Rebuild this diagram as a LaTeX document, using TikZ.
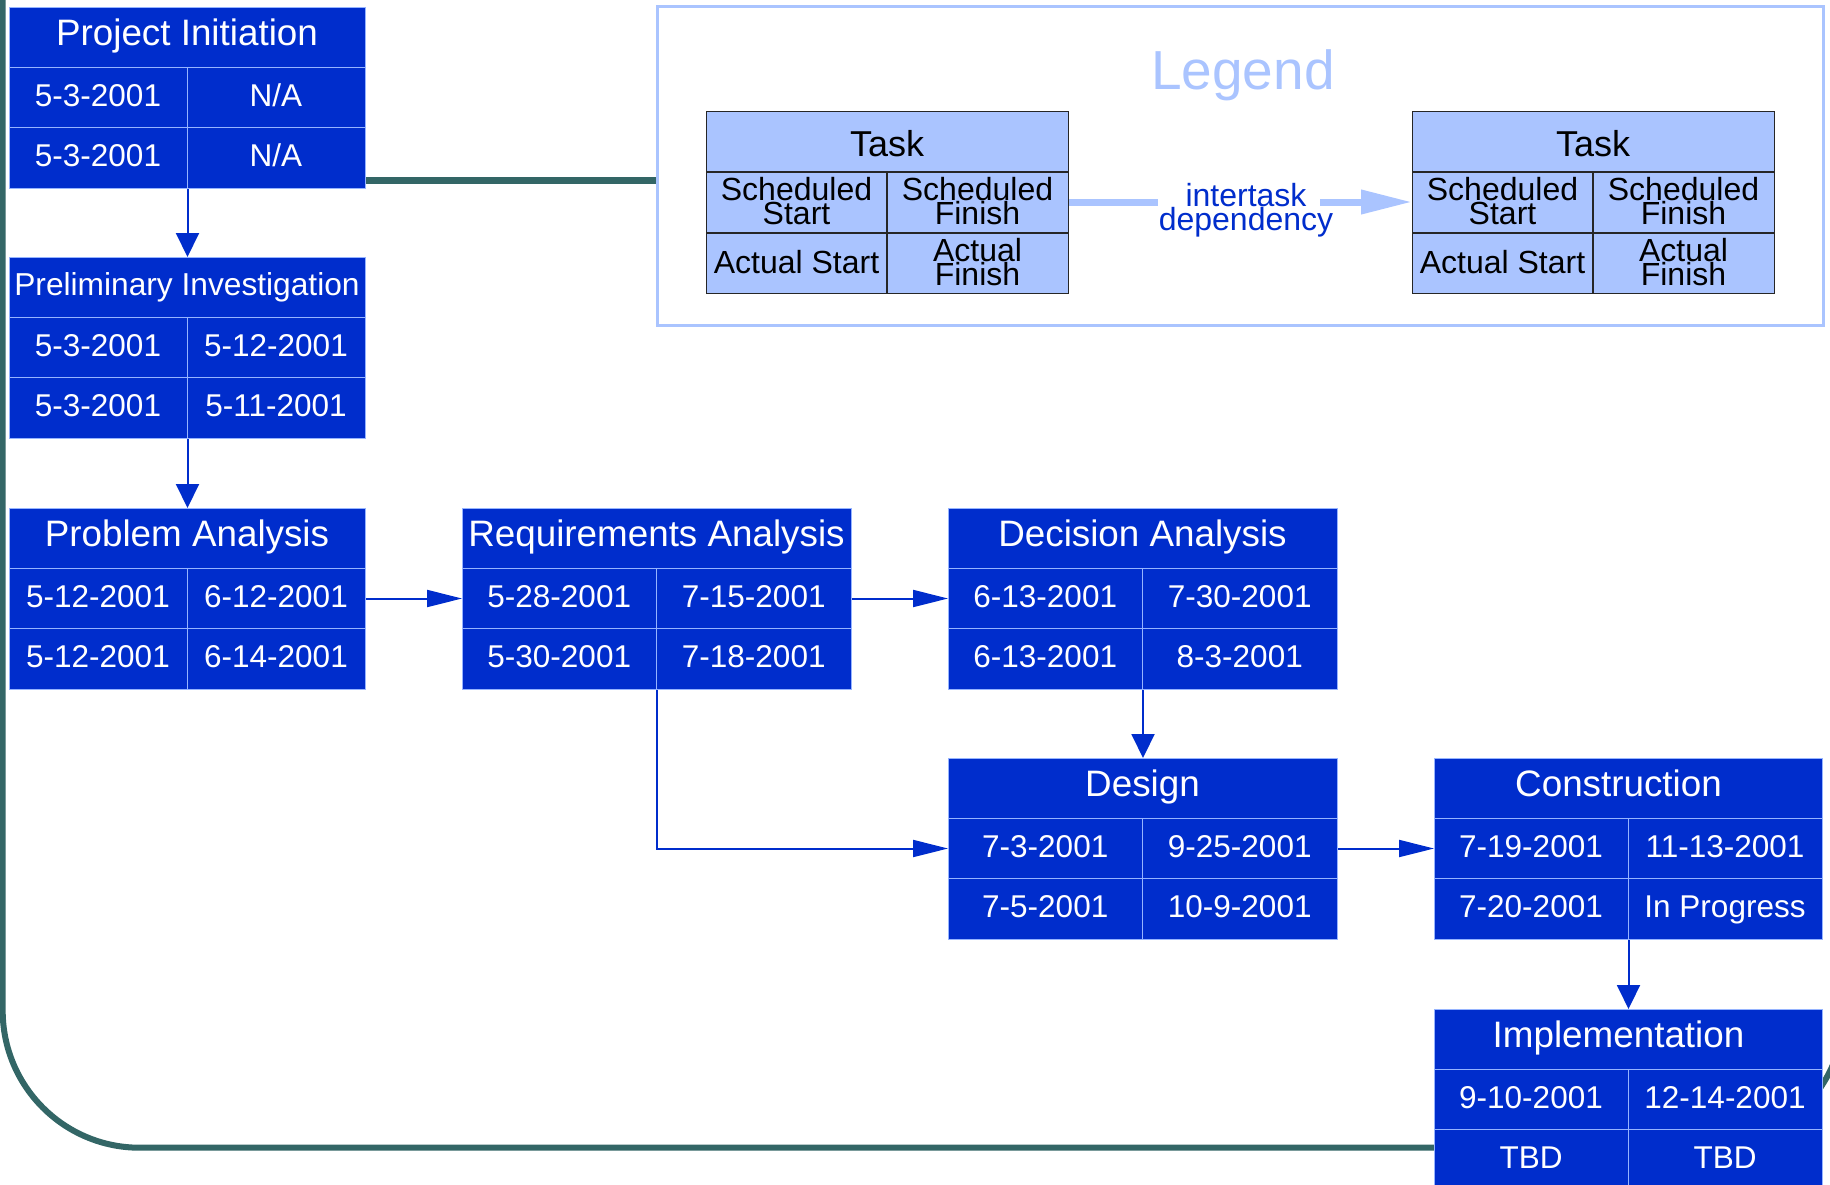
\documentclass[tikz,border=0pt]{standalone}
\usepackage{fontspec}
\setmainfont{Liberation Sans}
\usetikzlibrary{arrows.meta,calc}
\definecolor{boxblue}{RGB}{0,45,204}
\definecolor{cellblue}{RGB}{150,180,255}
\definecolor{legblue}{RGB}{170,196,255}
\definecolor{depblue}{RGB}{0,45,204}
\definecolor{teal}{RGB}{51,102,102}
\tikzset{
  taskbox/.style={draw=cellblue, fill=boxblue, line width=1pt, minimum height=181pt, inner sep=0pt},
  cellline/.style={draw=cellblue, line width=1pt},
  titletext/.style={anchor=base, text=white, inner sep=0pt, font=\fontsize{36.8}{40}\selectfont},
  celltext/.style={anchor=base, text=white, inner sep=0pt, font=\fontsize{31.5}{34}\selectfont},
  varr/.style={draw=boxblue, line width=2pt, -{Triangle[length=24pt,width=23pt]}},
  harr/.style={draw=boxblue, line width=2pt, -{Triangle[length=35pt,width=17pt]}},
  framepath/.style={draw=teal, line width=6pt},
  legendbox/.style={draw=legblue, line width=2.5pt, fill=white, inner sep=0pt},
  legtask/.style={draw=black!85, fill=legblue, line width=1.2pt, minimum width=362pt, minimum height=182pt, inner sep=0pt},
  legcell/.style={draw=black!85, line width=1.2pt},
  legtext/.style={text=black, inner sep=0pt, align=center, font=\fontsize{32}{24}\selectfont},
  legline/.style={draw=legblue, line width=7pt},
}
\newcommand{\TaskBox}[9]{%
  \node[taskbox, minimum width=#4pt, anchor=north west] (#1) at (#2,#3) {};
  \draw[cellline] (#2,#3+60.3) -- (#2+#4,#3+60.3)
                  (#2,#3+120.6) -- (#2+#4,#3+120.6)
                  (#2+#4/2,#3+60.3) -- (#2+#4/2,#3+181);
  \coordinate (#1-r1) at (#2+#4/2,#3+90.5);
  \node[titletext] (#1-t) at (#2+#4/2,#3+38) {#5};
  \node[celltext] (#1-a) at (#2+#4/4,#3+99) {#6};
  \node[celltext] (#1-b) at (#2+3*#4/4,#3+99) {#7};
  \node[celltext] (#1-c) at (#2+#4/4,#3+159.5) {#8};
  \node[celltext] (#1-d) at (#2+3*#4/4,#3+159.5) {#9};
}
\newcommand{\LegTask}[3]{%
  \node[legtask, anchor=north west] (#1) at (#2,#3) {};
  \draw[legcell] (#2,#3+61) -- (#2+362,#3+61)
                 (#2,#3+122) -- (#2+362,#3+122)
                 (#2+181,#3+61) -- (#2+181,#3+182);
  \node[legtext, anchor=base, font=\fontsize{36}{40}\selectfont] (#1-t) at (#2+181,#3+45) {Task};
  \node[legtext, anchor=north] (#1-a) at (#2+90.5,#3+66.6) {Scheduled\\Start};
  \node[legtext, anchor=north] (#1-b) at (#2+271.5,#3+66.6) {Scheduled\\Finish};
  \node[legtext, anchor=base] (#1-c) at (#2+90.5,#3+162) {Actual Start};
  \node[legtext, anchor=north] (#1-d) at (#2+271.5,#3+127) {Actual\\Finish};
}
\begin{document}
\begin{tikzpicture}[x=1pt,y=-1pt]
\useasboundingbox (0,0) rectangle (1830,1184);
\clip (0,0) rectangle (1830,1184);
% slide frame
\draw[framepath, rounded corners=137pt] (2.7,-200) -- (2.7,1147.7) -- (1844,1147.7) -- (1844,-200);
% legend
\node[legendbox, minimum width=1166pt, minimum height=319pt, anchor=north west] (legend) at (656,5) {};
\node[anchor=base, text=legblue, inner sep=0pt, font=\fontsize{55}{60}\selectfont] (legtitle) at (1243,89) {Legend};
\LegTask{lt}{706}{111}
\LegTask{rt}{1412}{111}
\coordinate (gapL) at (1158,202);
\coordinate (gapR) at (1320,202);
\draw[legline] (lt.east) -- (lt.east -| gapL);
\draw[legline, -{Triangle[length=51pt,width=23pt]}] (gapR) -- (gapR -| rt.west);
\node[anchor=north, text=depblue, inner sep=0pt, align=center, font=\fontsize{32}{23}\selectfont] (dep) at (1246,183) {intertask\\dependency};
% task boxes
\TaskBox{pi}{9}{7}{356}{Project Initiation}{5-3-2001}{N/A}{5-3-2001}{N/A}
\TaskBox{pre}{9}{257}{356}{\fontsize{31.7}{34}\selectfont Preliminary Investigation}{5-3-2001}{5-12-2001}{5-3-2001}{5-11-2001}
\TaskBox{pa}{9}{508}{356}{Problem Analysis}{5-12-2001}{6-12-2001}{5-12-2001}{6-14-2001}
\TaskBox{req}{462}{508}{389}{Requirements Analysis}{5-28-2001}{7-15-2001}{5-30-2001}{7-18-2001}
\TaskBox{dec}{948}{508}{389}{Decision Analysis}{6-13-2001}{7-30-2001}{6-13-2001}{8-3-2001}
\TaskBox{des}{948}{758}{389}{Design}{7-3-2001}{9-25-2001}{7-5-2001}{10-9-2001}
\TaskBox{con}{1434}{758}{388}{\kern-19pt Construction}{7-19-2001}{11-13-2001}{7-20-2001}{In Progress}
\TaskBox{imp}{1434}{1009}{388}{\kern-19pt Implementation}{9-10-2001}{12-14-2001}{TBD}{TBD}
% teal link from first task to legend
\coordinate (tlink) at ([yshift=9pt]pi.south east);
\draw[teal, line width=7pt] (tlink) -- (tlink -| legend.west);
% dependencies
\draw[varr] (pi.south) -- (pre.north);
\draw[varr] (pre.south) -- (pa.north);
\draw[harr] (pa.east |- pa-r1) -- (req.west |- pa-r1);
\draw[harr] (req.east |- req-r1) -- (dec.west |- req-r1);
\draw[varr] (dec.south) -- (des.north);
\draw[harr] (req.south) |- (des.west |- des-r1);
\draw[harr] (des.east |- des-r1) -- (con.west |- des-r1);
\draw[varr] (con.south) -- (imp.north);
\end{tikzpicture}
\end{document}
